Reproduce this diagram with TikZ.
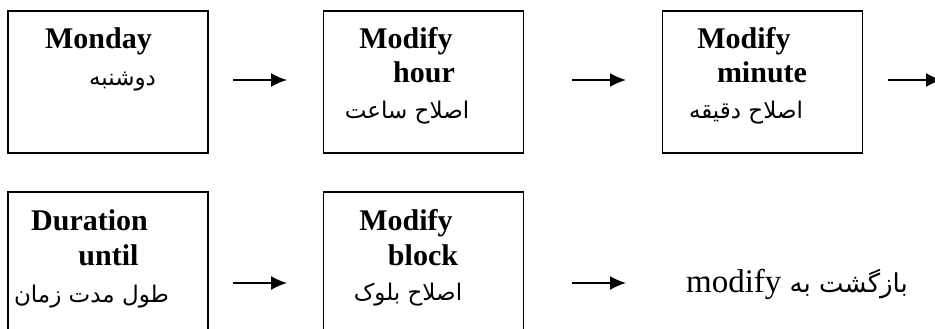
\documentclass[tikz,border=0pt]{standalone}
\usepackage{fontspec}
\setmainfont{Liberation Serif}
\newfontfamily\arabicfont[Script=Arabic]{DejaVu Sans}
\TeXXeTstate=1
\usetikzlibrary{arrows.meta, positioning}
\tikzset{
    stepBox/.style={rectangle, draw, line width=1.6pt, minimum width=200pt, minimum height=142pt, inner sep=0pt},
    enLabel/.style={font=\fontsize{30}{30}\selectfont\bfseries, inner sep=0pt, anchor=base},
    faLabel/.style={font=\fontsize{23}{23}\selectfont\arabicfont, inner sep=0pt, anchor=base},
    stepEdge/.style={-{Latex[length=16pt, width=14pt]}, line width=1.6pt},
}
\newcommand{\faText}[1]{\beginR #1\endR}
\newcommand{\stepArrow}[2]{
    \draw[stepEdge] (#1) -- (#2);
}

\begin{document}
\begin{tikzpicture}[x=1pt, y=-1pt]
    \useasboundingbox (0,0) rectangle (935,329);
    \clip (0,0) rectangle (935,329);

    % top row
    \node[stepBox] (mon) at (108,82) {};
    \node[stepBox] (hour) at (423.5,82) {};
    \node[stepBox] (minute) at (762.5,82) {};
    \node[enLabel] (monEn) at (98.5,49) {Monday};
    \node[faLabel] (monFa) at (122.5,85) {\faText{دوشنبه}};
    \node[enLabel] (hourEn1) at (406,49) {Modify};
    \node[enLabel] (hourEn2) at (424,83) {hour};
    \node[faLabel] (hourFa) at (407,118) {\faText{اصلاح ساعت}};
    \node[enLabel] (minEn1) at (744,49) {Modify};
    \node[enLabel] (minEn2) at (762,83) {minute};
    \node[faLabel] (minFa) at (746,118) {\faText{اصلاح دقیقه}};

    % bottom row
    \node[stepBox] (until) at (108,263) {};
    \node[stepBox] (block) at (423.5,263) {};
    \node[enLabel] (untilEn1) at (89.5,230) {Duration};
    \node[enLabel] (untilEn2) at (108.5,265) {until};
    \node[faLabel] (untilFa) at (91.5,302) {\faText{طول مدت زمان}};
    \node[enLabel] (blockEn1) at (406,230) {Modify};
    \node[enLabel] (blockEn2) at (423,265) {block};
    \node[faLabel] (blockFa) at (408,300) {\faText{اصلاح بلوک}};
    \node[inner sep=0pt, anchor=base, font=\fontsize{33}{33}\selectfont] (back) at (797,292)
        {\beginR{\arabicfont\fontsize{26}{26}\selectfont بازگشت به} \beginL modify\endL\endR};

    \coordinate (a1s) at (233,80);  \coordinate (a1e) at (287,80);
    \coordinate (a2s) at (572,80);  \coordinate (a2e) at (626,80);
    \coordinate (a3s) at (888,80);  \coordinate (a3e) at (942,80);
    \coordinate (b1s) at (233,283); \coordinate (b1e) at (287,283);
    \coordinate (b2s) at (572,283); \coordinate (b2e) at (626,283);

    \stepArrow{a1s}{a1e}
    \stepArrow{a2s}{a2e}
    \stepArrow{a3s}{a3e}
    \stepArrow{b1s}{b1e}
    \stepArrow{b2s}{b2e}
\end{tikzpicture}
\end{document}
